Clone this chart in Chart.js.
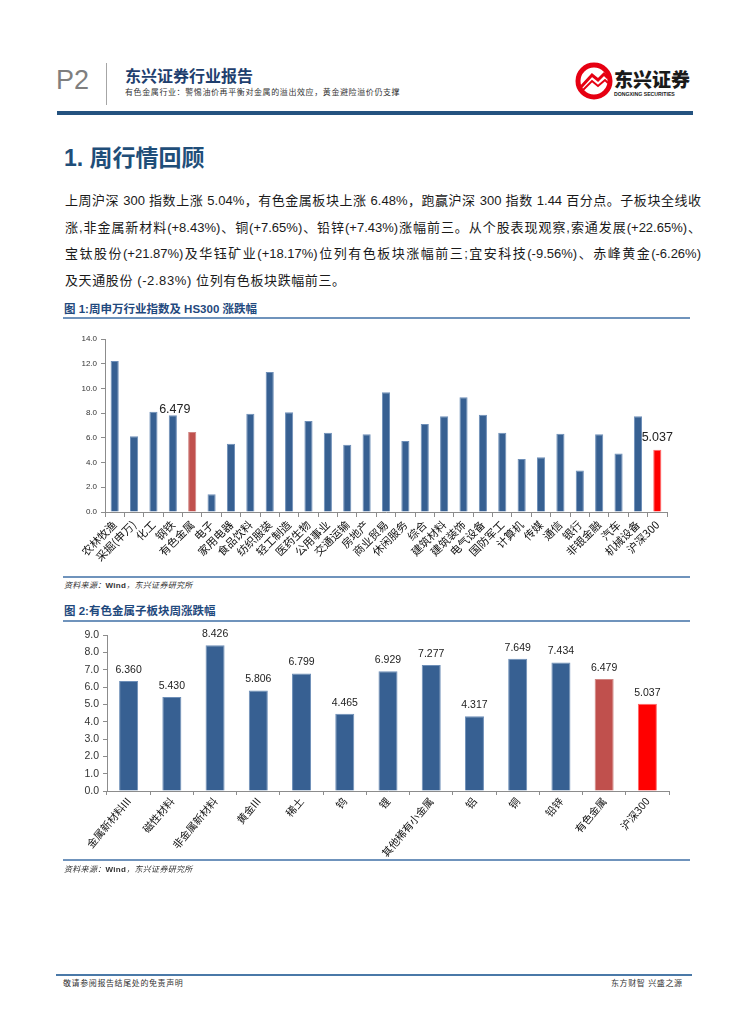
<!DOCTYPE html>
<html><head><meta charset="utf-8">
<script src="https://cdn.jsdelivr.net/npm/chart.js@4/dist/chart.umd.min.js"></script>
<style>
html,body{margin:0;padding:0;background:#fff;}
body{width:755px;height:1024px;position:relative;overflow:hidden;font-family:"Liberation Sans","Noto Sans CJK SC",sans-serif;color:#222;}
.a{position:absolute;white-space:nowrap;}
.rule{position:absolute;height:2px;background:#6F93BC;}
.para{position:absolute;left:65px;width:636px;font-size:13px;line-height:26.4px;height:26.4px;text-align:justify;text-align-last:justify;text-justify:inter-character;white-space:normal;overflow:visible;font-family:"Liberation Sans","Noto Sans CJK SC",sans-serif;color:#1a1a1a;}
.figt{position:absolute;left:64px;font-size:11.5px;font-weight:bold;color:#1F497D;line-height:14px;white-space:nowrap;}
.src{position:absolute;left:64px;font-size:8px;font-style:italic;color:#333;line-height:10px;white-space:nowrap;letter-spacing:0.3px;}
canvas{position:absolute;}
</style></head>
<body>
<div class="a" style="left:56px;top:64px;font-size:27px;line-height:32px;color:#7F7F7F;">P2</div>
<div class="a" style="left:106px;top:63px;width:1px;height:42px;background:#A6A6A6;"></div>
<div class="a" style="left:125px;top:68px;font-size:16px;line-height:18px;font-weight:bold;color:#1F3F6E;">东兴证券行业报告</div>
<div class="a" style="left:125px;top:88px;font-size:8px;line-height:10px;color:#333;letter-spacing:0.6px;">有色金属行业：警惕油价再平衡对金属的溢出效应，黄金避险溢价仍支撑</div>
<svg class="a" style="left:574px;top:60px;" width="124" height="44" viewBox="0 0 124 44">
  <circle cx="20" cy="21" r="16" fill="#fff" stroke="#E60012" stroke-width="5"/>
  <path d="M7 27 L18 15 L24 20 L30 14 L34 18" fill="none" stroke="#E60012" stroke-width="3"/>
  <path d="M8 31 L18 21 L24 26 L31 20 L34 23" fill="none" stroke="#E60012" stroke-width="2"/>
  <text x="40" y="27" font-family="Noto Sans CJK SC" font-weight="900" font-size="19" fill="#1a1a1a">东兴证券</text>
  <text x="40" y="36" font-family="Liberation Sans" font-weight="bold" font-size="5.2" fill="#1a1a1a">DONGXING SECURITIES</text>
</svg>
<div class="a" style="left:57px;top:111px;width:636px;height:4px;background:#24527F;"></div>

<div class="a" style="left:64px;top:144px;font-size:23px;line-height:28px;font-weight:bold;color:#1F4E79;">1. 周行情回顾</div>

<div class="para" style="top:188px;">上周沪深 300 指数上涨 5.04%，有色金属板块上涨 6.48%，跑赢沪深 300 指数 1.44 百分点。子板块全线收</div>
<div class="para" style="top:214.5px;">涨,非金属新材料(+8.43%)、铜(+7.65%)、铅锌(+7.43%)涨幅前三。从个股表现观察,索通发展(+22.65%)、</div>
<div class="para" style="top:241px;">宝钛股份(+21.87%)及华钰矿业(+18.17%)位列有色板块涨幅前三;宜安科技(-9.56%)、赤峰黄金(-6.26%)</div>
<div class="para" style="top:267.5px;text-align:left;text-align-last:left;letter-spacing:0.6px;">及天通股份 (-2.83%) 位列有色板块跌幅前三。</div>

<div class="figt" style="top:302px;">图 1:周申万行业指数及 HS300 涨跌幅</div>
<div class="rule" style="left:63px;top:317px;width:627px;"></div>
<canvas id="c1" width="620" height="250" style="left:60px;top:330px;"></canvas>
<div class="rule" style="left:63px;top:576px;width:627px;"></div>
<div class="src" style="top:581px;">资料来源：<span style="font-style:normal;font-weight:bold;">Wind</span>，东兴证券研究所</div>

<div class="figt" style="top:604px;">图 2:有色金属子板块周涨跌幅</div>
<div class="rule" style="left:63px;top:620px;width:627px;"></div>
<canvas id="c2" width="620" height="246" style="left:60px;top:625px;"></canvas>
<div class="rule" style="left:63px;top:859px;width:627px;"></div>
<div class="src" style="top:865px;">资料来源：<span style="font-style:normal;font-weight:bold;">Wind</span>，东兴证券研究所</div>

<div class="a" style="left:56px;top:974px;width:636px;height:2px;background:#4A79A8;"></div>
<div class="a" style="left:63px;top:979px;font-size:8px;line-height:10px;color:#333;letter-spacing:0.6px;">敬请参阅报告结尾处的免责声明</div>
<div class="a" style="left:611px;top:979px;font-size:8px;line-height:10px;color:#333;letter-spacing:0.6px;">东方财智 兴盛之源</div>

<script>
// ---- Data ----
const industryLabels = ['农林牧渔','采掘(申万)','化工','钢铁','有色金属','电子','家用电器','食品饮料','纺织服装','轻工制造','医药生物','公用事业','交通运输','房地产','商业贸易','休闲服务','综合','建筑材料','建筑装饰','电气设备','国防军工','计算机','传媒','通信','银行','非银金融','汽车','机械设备','沪深300'];
const industryValues = [12.22, 6.12, 8.12, 7.83, 6.479, 1.44, 5.52, 7.96, 11.32, 8.07, 7.37, 6.42, 5.44, 6.29, 9.70, 5.74, 7.12, 7.75, 9.29, 7.88, 6.42, 4.28, 4.44, 6.34, 3.36, 6.29, 4.74, 7.75, 5.037];
const subLabels = ['金属新材料III','磁性材料','非金属新材料','黄金III','稀土','钨','锂','其他稀有小金属','铝','铜','铅锌','有色金属','沪深300'];
const subValues = [6.360, 5.430, 8.426, 5.806, 6.799, 4.465, 6.929, 7.277, 4.317, 7.649, 7.434, 6.479, 5.037];
const chart1Axis = {min: 0, max: 14, step: 2};
const chart2Axis = {min: 0, max: 9, step: 1};

const BLUE = '#376092', BRICK = '#C0504D', RED = '#FF0000';
function colorFor(label){ return label === '有色金属' ? BRICK : (label === '沪深300' ? RED : BLUE); }
function borderFor(label){ return label === '有色金属' ? '#D08683' : (label === '沪深300' ? '#FF6666' : '#6E8FB8'); }

const CJK = '"Noto Sans CJK SC", sans-serif';
const LAT = '"Liberation Sans", sans-serif';

const labels1 = {
  id: 'labels1',
  afterDatasetsDraw(chart){
    const ctx = chart.ctx, meta = chart.getDatasetMeta(0);
    const xs = chart.scales.x, ys = chart.scales.y;
    ctx.save();
    ctx.font = '12.5px ' + LAT; ctx.fillStyle = '#222';
    ctx.textAlign = 'center'; ctx.textBaseline = 'middle';
    const iSec = industryLabels.indexOf('有色金属');
    ctx.fillText(industryValues[iSec].toFixed(3), xs.getPixelForValue(iSec - 0.9), ys.getPixelForValue(industryValues[iSec - 1]) - 6);
    const iHs = industryLabels.indexOf('沪深300');
    const b = meta.data[iHs];
    ctx.fillText(industryValues[iHs].toFixed(3), b.x, b.y - 12);
    ctx.restore();
  }
};
const labels2 = {
  id: 'labels2',
  afterDatasetsDraw(chart){
    const ctx = chart.ctx, meta = chart.getDatasetMeta(0);
    ctx.save();
    ctx.font = '10.5px ' + LAT; ctx.fillStyle = '#222';
    ctx.textAlign = 'center'; ctx.textBaseline = 'middle';
    meta.data.forEach((b, i) => ctx.fillText(subValues[i].toFixed(3), b.x, b.y - 11));
    ctx.restore();
  }
};

function makeChart(id, labels, values, axis, opt){
  return new Chart(document.getElementById(id), {
    type: 'bar',
    data: { labels: labels, datasets: [{
      data: values,
      backgroundColor: labels.map(colorFor),
      borderColor: labels.map(borderFor),
      borderWidth: 1,
      barPercentage: opt.bar, categoryPercentage: 1
    }]},
    options: {
      responsive: false, animation: false, devicePixelRatio: 1,
      layout: { padding: { left: 0, right: opt.padRight, top: 9, bottom: opt.padBottom } },
      plugins: { legend: { display: false }, tooltip: { enabled: false } },
      scales: {
        x: {
          grid: { drawOnChartArea: false, drawTicks: true, tickLength: opt.xTick, color: '#8C8C8C', offset: true },
          border: { color: '#8C8C8C', width: 1 },
          ticks: { autoSkip: false, maxRotation: opt.rot, minRotation: opt.rot, padding: opt.xPad,
                   color: '#111', font: { family: CJK, size: opt.xFont } },
          afterFit: s => { s.height = opt.xHeight; }
        },
        y: {
          min: axis.min, max: axis.max,
          grid: { drawOnChartArea: false, drawTicks: true, tickLength: 4, color: '#8C8C8C' },
          border: { color: '#8C8C8C', width: 1 },
          ticks: { stepSize: axis.step, padding: opt.yPad, color: '#333', font: { family: LAT, size: opt.yFont },
                   callback: v => Number(v).toFixed(1) },
          afterFit: s => { s.width = opt.yWidth; }
        }
      }
    },
    plugins: [opt.plugin]
  });
}

makeChart('c1', industryLabels, industryValues, chart1Axis,
  { bar: 0.42, padRight: 13, padBottom: 0, rot: 45, xFont: 11, xPad: 1, xTick: 5, xHeight: 68, yWidth: 45, yFont: 8, yPad: 4, plugin: labels1 });
makeChart('c2', subLabels, subValues, chart2Axis,
  { bar: 0.44, padRight: 11, padBottom: 14, rot: 50, xFont: 10.5, xPad: 0, xTick: 4, xHeight: 66, yWidth: 47, yFont: 10.5, yPad: 4, plugin: labels2 });
</script>
</body></html>
